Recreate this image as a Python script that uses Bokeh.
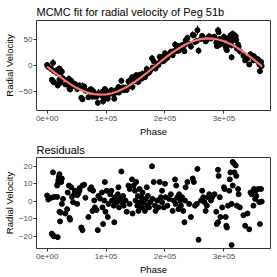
from bokeh.plotting import figure
from bokeh.layouts import column
from bokeh.models import ColumnDataSource, FixedTicker, Range1d
from bokeh.embed import file_html
from bokeh.resources import INLINE

FONT = "Liberation Sans"

# ---------------- data (phase in thousands) ----------------
phase_k = [0, 2, 7, 8, 10, 12, 10, 12, 17, 18,
           17, 18, 19, 20, 21, 22, 23, 24, 25, 21,
           23, 22, 25, 27, 31, 34, 35, 37, 38, 39,
           41, 42, 44, 46, 47, 49, 51, 53, 55, 51,
           55, 58, 60, 60, 63, 65, 70, 73, 75, 77,
           78, 80, 81, 84, 86, 87, 90, 93, 94, 95,
           97, 98, 99, 101, 103, 104, 107, 109, 110, 113,
           114, 115, 118, 120, 121, 122, 124, 126, 127, 129,
           130, 133, 135, 138, 140, 140, 144, 145, 147, 149,
           150, 151, 153, 154, 155, 157, 158, 160, 161, 162,
           164, 166, 167, 169, 170, 171, 173, 175, 178, 179,
           181, 183, 184, 187, 189, 191, 193, 195, 195, 198,
           200, 201, 204, 207, 210, 213, 215, 217, 218, 219,
           221, 223, 224, 226, 227, 229, 231, 233, 234, 235,
           238, 241, 244, 247, 249, 251, 254, 255, 257, 261,
           263, 265, 267, 269, 271, 273, 275, 278, 280, 284,
           287, 288, 290, 290, 291, 293, 294, 297, 300, 301,
           303, 304, 305, 307, 309, 310, 311, 313, 313, 315,
           315, 317, 318, 320, 321, 322, 324, 325, 327, 333,
           336, 340, 343, 345, 347, 350, 351, 353, 354, 355,
           358, 360, 361, 363, 364]

radial_velocity = [1, -3, -7, -28, -31, -33, 5, -11, -15, -39,
                   -9, -9, -8, -7, -6, -9, -11, -13, -12, -27,
                   -30, -34, -26, -25, -37, -37, -28, -26, -45, -47,
                   -30, -36, -40, -37, -36, -38, -41, -41, -41, -46,
                   -39, -63, -66, -40, -41, -49, -62, -47, -47, -61,
                   -50, -56, -60, -61, -73, -54, -56, -52, -60, -70,
                   -56, -46, -62, -50, -65, -57, -51, -48, -54, -56,
                   -65, -50, -52, -46, -42, -53, -47, -30, -47, -43,
                   -48, -43, -48, -31, -40, -32, -23, -42, -25, -26,
                   -31, -19, -31, -25, -32, -18, -25, -20, -25, -16,
                   -20, -23, -15, -7, -16, -10, -14, -10, 14, -4,
                   8, -4, -6, 3, 1, 17, 10, 16, 9, 9,
                   24, 17, 15, 22, 27, 20, 28, 41, 28, 39,
                   34, 29, 38, 36, 33, 40, 33, 28, 41, 49,
                   54, 43, 37, 60, 59, 46, 48, 69, 29, 52,
                   58, 54, 52, 47, 50, 55, 57, 53, 55, 56,
                   45, 38, 39, 69, 65, 52, 41, 45, 56, 54,
                   37, 32, 30, 42, 49, 55, 59, 39, 16, 62,
                   49, 60, 54, 57, 50, 33, 41, 37, 28, 19,
                   10, 14, 2, 22, 19, 10, 18, 11, 14, 10,
                   12, 2, -11, 7, -1]

rv_error = [6, 5, 7, 5, 6, 5, 8, 6, 5, 6,
            5, 6, 7, 5, 6, 5, 6, 7, 5, 6,
            6, 5, 7, 6, 5, 6, 5, 7, 6, 5,
            5, 6, 5, 7, 6, 5, 6, 5, 7, 6,
            6, 5, 6, 7, 5, 6, 5, 6, 7, 5,
            5, 6, 7, 5, 6, 8, 5, 6, 5, 7,
            6, 5, 6, 7, 5, 6, 5, 6, 7, 5,
            5, 7, 6, 5, 6, 5, 7, 6, 5, 6,
            6, 5, 5, 7, 6, 5, 6, 7, 5, 6,
            5, 6, 7, 5, 6, 5, 6, 5, 7, 6,
            6, 5, 6, 7, 5, 6, 5, 6, 7, 5,
            5, 6, 5, 7, 6, 5, 6, 5, 7, 6,
            6, 5, 7, 5, 6, 5, 6, 7, 5, 6,
            5, 6, 5, 6, 7, 5, 6, 5, 6, 7,
            6, 5, 6, 7, 5, 6, 5, 9, 7, 5,
            5, 6, 7, 5, 6, 5, 7, 6, 5, 6,
            6, 5, 6, 7, 5, 6, 5, 6, 7, 5,
            5, 6, 5, 7, 6, 5, 6, 5, 6, 7,
            6, 5, 7, 6, 5, 6, 5, 6, 7, 5,
            5, 6, 5, 6, 7, 5, 6, 5, 6, 7,
            6, 5, 6, 5, 6]

residuals = [3.3, 1, 2, -18.5, -19.5, -20, 16.5, 2.5, 2.5, -20.5,
             9, 10, 12, 14, 15.5, 13, 12, 11, 13, -6,
             -6.5, -11.5, -1.5, 1.3, -7, -4.5, 5, 9, -9.5, -10.5,
             8, 2.5, -0.5, 4, 6, 5, 3.5, 4.5, 6, -1.5,
             7.5, -15, -16.5, 9, 9.5, 2, -9, 7, 8, -5.5,
             6, 0.5, -3.5, -5, -16.5, 3, 1.5, 5, -3.5, -13,
             0.4, 11, -6, 6, -9, -1.5, 4, 6, 0.4, -2.5,
             -12, 2.3, -0.5, 4, 8, -3.5, 1.3, 17, -0.5, 3,
             -2.5, 0.4, -6, 9, -1.5, 7, 12.5, -7, 9, 6,
             0.4, 11, -2.5, 3, -5.5, 7, -0.5, 2.3, -3.5, 5,
             -0.5, -5.5, 1.3, 8, -2.5, 3, -3.5, -0.5, 20, 1.3,
             11, -2.5, -5.5, 0.4, -3.5, 11, 2.3, 6, -0.5, -3.5,
             10, 2.3, -2.5, 1.3, 4, -5.5, 0.4, 12.5, -1.5, 9,
             2.3, -4.5, 4, 0.4, -2.5, 2.3, -5.5, -12, 0.4, 8,
             11, -1.5, -9, 13, 11, -2.5, -1.5, 18.5, -22, 0.4,
             6, 2.3, -0.5, -5.5, -2.5, 2.3, 4, 0.4, 2.3, 4,
             -6, -13, -12, 18, 14.5, 2.3, -9, -3.5, 8, 7,
             -9, -14, -15, -2.5, 6, 12.5, 16.5, -1.5, -25, 22.5,
             9, 21.5, 16.5, 20.5, 14.5, -2.5, 7, 4, -3.5, -8,
             -14, -7, -16, 5, 4, -2.5, 7, 1.3, 6, 3,
             7, -0.5, -13, 7, -0.2]

fit_phase_k = [0, 10, 20, 30, 40, 50, 60, 70, 80, 90, 100, 110, 120, 130,
               140, 150, 160, 170, 180, 190, 200, 210, 220, 230, 240, 250,
               260, 270, 280, 290, 300, 310, 320, 330, 340, 350, 360, 365]
fit_rv = [-2.0, -11.4, -20.5, -29.2, -37.0, -43.7, -49.2, -53.4, -56.0, -57.0,
          -56.4, -54.2, -50.4, -45.2, -38.7, -31.2, -22.8, -13.7, -4.4, 5.1,
          14.3, 23.1, 31.1, 38.1, 43.9, 48.5, 51.5, 52.9, 52.7, 50.9, 47.5,
          42.6, 36.5, 29.1, 21.0, 12.1, 2.7, -2.0]

x_ticks = [0, 100000, 200000, 300000]
x_tick_labels = ["0e+00", "1e+05", "2e+05", "3e+05"]
top_y_ticks = [-50, 0, 50]
res_y_ticks = [-20, -10, 0, 10, 20]

title_top = "MCMC fit for radial velocity of Peg 51b"
title_res = "Residuals"
x_label = "Phase"
y_label = "Radial Velocity"

# ---------------- sources ----------------
phase = [v * 1000 for v in phase_k]
fit_phase = [v * 1000 for v in fit_phase_k]
src = ColumnDataSource(dict(
    phase=phase,
    rv=radial_velocity,
    lo=[r - e for r, e in zip(radial_velocity, rv_error)],
    hi=[r + e for r, e in zip(radial_velocity, rv_error)],
    res=residuals,
))
fit_src = ColumnDataSource(dict(phase=fit_phase, rv=fit_rv))


def style(p, yticks, title_standoff):
    p.title.text_font = FONT
    p.title.text_font_size = "11px"
    p.title.text_font_style = "normal"
    p.title.text_color = "black"
    p.title.offset = 0
    p.title.standoff = title_standoff
    p.outline_line_color = "#333333"
    p.outline_line_width = 1
    p.outline_line_alpha = 1
    p.xgrid.visible = False
    p.ygrid.visible = False
    p.background_fill_color = "white"
    p.border_fill_color = "white"
    for ax in p.axis:
        ax.axis_line_color = None
        ax.major_tick_line_color = "#333333"
        ax.major_tick_out = 3
        ax.major_tick_in = 0
        ax.minor_tick_line_color = None
        ax.major_label_text_font = FONT
        ax.major_label_text_font_size = "8px"
        ax.major_label_text_color = "#4D4D4D"
        ax.axis_label_text_font = FONT
        ax.axis_label_text_font_size = "9.5px"
        ax.axis_label_text_font_style = "normal"
        ax.axis_label_text_color = "black"
    p.xaxis.axis_label_standoff = 2
    p.xaxis.major_label_standoff = 2
    p.yaxis.axis_label_standoff = 1
    p.yaxis.major_label_standoff = 1
    p.xaxis.ticker = FixedTicker(ticks=x_ticks)
    p.xaxis.major_label_overrides = {t: l for t, l in zip(x_ticks, x_tick_labels)}
    p.yaxis.ticker = FixedTicker(ticks=yticks)
    p.xaxis.axis_label = x_label
    p.yaxis.axis_label = y_label


top = figure(width=277, height=139, title=title_top,
             x_range=Range1d(-18000, 379000), y_range=Range1d(-88, 88),
             output_backend="svg", toolbar_location=None,
             min_border_left=30, min_border_right=7, min_border_top=1, min_border_bottom=0)
top.segment(x0="phase", y0="lo", x1="phase", y1="hi", source=src,
            line_color="black", line_width=1)
top.scatter(x="phase", y="rv", source=src, size=5, color="black")
top.line(x="phase", y="rv", source=fit_src, line_color="#F8766D", line_width=2.2)
style(top, top_y_ticks, 6)

bot = figure(width=277, height=138, title=title_res,
             x_range=Range1d(-18000, 379000), y_range=Range1d(-27, 25),
             output_backend="svg", toolbar_location=None,
             min_border_left=30, min_border_right=7, min_border_top=0, min_border_bottom=0)
bot.scatter(x="phase", y="res", source=src, size=5, color="black")
style(bot, res_y_ticks, 4)

layout = column(top, bot, spacing=0)

open("out.html", "w").write(file_html(layout, INLINE))
